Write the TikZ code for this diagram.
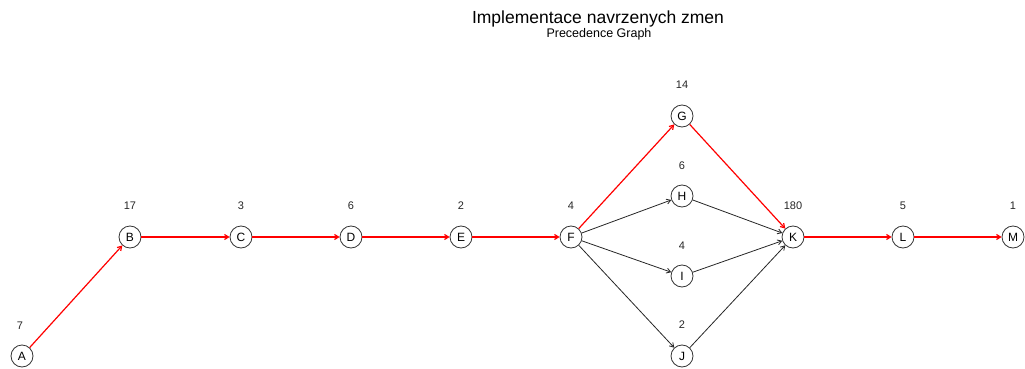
\documentclass[tikz,border=0pt]{standalone}
\usepackage{fontspec}
\setmainfont{Liberation Sans}
\usetikzlibrary{arrows.meta}
\definecolor{critred}{RGB}{255,0,0}
\begin{document}
\begin{tikzpicture}[x=1pt,y=-1pt,
  task/.style={circle,draw=black!80,line width=0.8pt,minimum size=22pt,inner sep=0pt,font=\fontsize{12}{12}\selectfont},
  dur/.style={font=\fontsize{11}{11}\selectfont,text=black!85},
  crit/.style={draw=critred,line width=1.2pt,-{Straight Barb[length=4pt,width=5pt]}},
  norm/.style={draw=black!85,line width=0.8pt,-{Straight Barb[length=4pt,width=5pt]}}]
\useasboundingbox (0,0) rectangle (1025,369);
% titles
\node[font=\fontsize{17.5}{17.5}\selectfont] (title) at (598,19) {Implementace navrzenych zmen};
\node[font=\fontsize{12.5}{12.5}\selectfont] (sub) at (599,34.5) {Precedence Graph};
% task nodes
\node[task] (A) at (22,356) {A};
\node[task] (B) at (130,237) {B};
\node[task] (C) at (241,237) {C};
\node[task] (D) at (351,237) {D};
\node[task] (E) at (461,237) {E};
\node[task] (F) at (571,237) {F};
\node[task] (G) at (682,116) {G};
\node[task] (H) at (682,196) {H};
\node[task] (I) at (682,276) {I};
\node[task] (J) at (682,356) {J};
\node[task] (K) at (793,237) {K};
\node[task] (L) at (903,237) {L};
\node[task] (M) at (1013,237) {M};
% durations
\node[dur] (dA) at (20,326) {7};
\node[dur] (dB) at (130,206) {17};
\node[dur] (dC) at (241,206) {3};
\node[dur] (dD) at (351,206) {6};
\node[dur] (dE) at (461,206) {2};
\node[dur] (dF) at (571,206) {4};
\node[dur] (dG) at (682,85) {14};
\node[dur] (dH) at (682,166) {6};
\node[dur] (dI) at (682,246) {4};
\node[dur] (dJ) at (682,325) {2};
\node[dur] (dK) at (793,206) {180};
\node[dur] (dL) at (903,206) {5};
\node[dur] (dM) at (1013,206) {1};
% critical path
\draw[crit] (A) -- (B);
\draw[crit] (B) -- (C);
\draw[crit] (C) -- (D);
\draw[crit] (D) -- (E);
\draw[crit] (E) -- (F);
\draw[crit] (F) -- (G);
\draw[crit] (G) -- (K);
\draw[crit] (K) -- (L);
\draw[crit] (L) -- (M);
% other dependencies
\draw[norm] (F) -- (H);
\draw[norm] (F) -- (I);
\draw[norm] (F) -- (J);
\draw[norm] (H) -- (K);
\draw[norm] (I) -- (K);
\draw[norm] (J) -- (K);
\end{tikzpicture}
\end{document}
